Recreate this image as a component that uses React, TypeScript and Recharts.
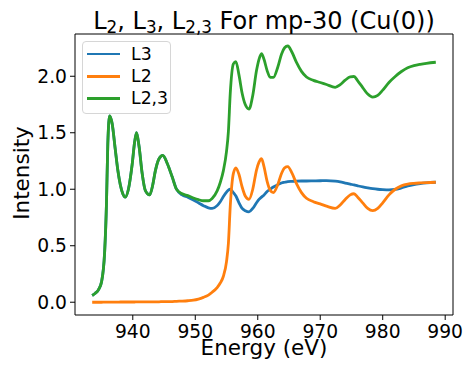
import { LineChart, Line, XAxis, YAxis, Legend } from 'recharts';

const ENERGY = [
  933.5, 934, 934.5, 935, 935.5, 935.8, 936.0, 936.3, 936.7, 937.2,
  937.6, 938.0, 938.4, 938.8, 939.3, 939.9, 940.3, 940.6, 941.0, 941.5,
  942.0, 942.7, 943.2, 943.6, 944.2, 944.8, 945.5, 946.3, 947.0, 947.9,
  948.8, 949.7, 950.5, 951.3, 952.1, 952.7, 953.5, 954.0, 954.5, 955.0,
  955.3, 955.6, 956.1, 956.5, 957.0, 957.5, 958.0, 958.6, 959.2, 959.8,
  960.2, 960.6, 961.0, 961.5, 962.0, 962.5, 963.2, 963.8, 964.3, 964.8,
  965.5, 966.2, 967.0, 967.8, 968.9, 970.0, 971.0, 972.4, 973.2, 974.0,
  974.8, 975.4, 976.0, 976.8, 977.6, 978.4, 979.2, 980.0, 981.0, 982.0,
  983.0, 984.0, 985.0, 986.0, 987.0, 988.5,
];

const L3 = [
  0.06, 0.08, 0.11, 0.18, 0.45, 0.9, 1.4, 1.65, 1.58, 1.35,
  1.17, 1.04, 0.96, 0.93, 1.0, 1.22, 1.42, 1.5, 1.38, 1.14,
  0.99, 0.95, 1.04, 1.16, 1.27, 1.3, 1.23, 1.11, 1.0, 0.95,
  0.93, 0.905, 0.88, 0.855, 0.835, 0.83, 0.855, 0.89, 0.935, 0.975,
  0.993, 1.0, 0.97, 0.94, 0.88, 0.83, 0.81, 0.8, 0.83, 0.88,
  0.91, 0.93, 0.95, 0.98, 1.0, 1.02, 1.04, 1.055, 1.062, 1.068,
  1.07, 1.072, 1.073, 1.073, 1.074, 1.075, 1.077, 1.072, 1.065, 1.055,
  1.045, 1.038, 1.03, 1.02, 1.012, 1.005, 1.0, 0.997, 0.995, 0.998,
  1.012, 1.03, 1.042, 1.05, 1.056, 1.062,
];

const L2 = [
  0, 0, 0, 0, 0.001, 0.001, 0.001, 0.001, 0.001, 0.001,
  0.001, 0.002, 0.002, 0.002, 0.002, 0.002, 0.002, 0.003, 0.003, 0.003,
  0.003, 0.003, 0.004, 0.004, 0.004, 0.005, 0.005, 0.006, 0.008, 0.01,
  0.013, 0.018, 0.028, 0.043, 0.063, 0.088, 0.13, 0.17, 0.23, 0.36,
  0.52, 0.85, 1.14, 1.19, 1.13, 1.02, 0.94, 0.91, 1.0, 1.17,
  1.24, 1.27, 1.2, 1.07, 0.99, 0.97, 1.04, 1.14, 1.19, 1.2,
  1.14, 1.05, 0.97, 0.92, 0.89, 0.87, 0.85, 0.83, 0.86, 0.91,
  0.95, 0.96, 0.93, 0.88, 0.83, 0.81, 0.83, 0.88, 0.95, 1.0,
  1.03, 1.045, 1.052, 1.056, 1.059, 1.062,
];

const L23 = [
  0.06, 0.08, 0.11, 0.18, 0.45, 0.9, 1.4, 1.65, 1.58, 1.35,
  1.17, 1.04, 0.96, 0.93, 1.0, 1.22, 1.42, 1.5, 1.38, 1.14,
  0.99, 0.95, 1.04, 1.16, 1.27, 1.3, 1.23, 1.11, 1.0, 0.96,
  0.943, 0.923, 0.908, 0.898, 0.898, 0.918, 0.985, 1.06, 1.165, 1.335,
  1.51, 1.85, 2.11, 2.13, 2.01, 1.85, 1.75, 1.71, 1.83, 2.05,
  2.15, 2.2, 2.15, 2.05, 1.99, 1.99, 2.08, 2.195, 2.252, 2.268,
  2.21, 2.122, 2.043, 1.993, 1.964, 1.945, 1.927, 1.902, 1.925, 1.965,
  1.995, 1.998, 1.96, 1.9, 1.842, 1.815, 1.83, 1.877, 1.945, 1.998,
  2.042, 2.075, 2.094, 2.106, 2.115, 2.124,
];

const SERIES = ['L3', 'L2', 'L2,3'];
const X_TICKS = [940, 950, 960, 970, 980, 990];
const Y_TICKS = [0, 0.5, 1.0, 1.5, 2.0];

const FONT = "'DejaVu Sans', sans-serif";

const rows = ENERGY.map((energy, i) => ({
  energy,
  L3: L3[i],
  L2: L2[i],
  'L2,3': L23[i],
}));

function LegendBox({ payload }: any) {
  const items = [...(payload || [])].sort(
    (a: any, b: any) => SERIES.indexOf(a.value) - SERIES.indexOf(b.value)
  );
  return (
    <div
      style={{
        width: 89,
        height: 73,
        boxSizing: 'border-box',
        border: '1px solid #d6d6d6',
        borderRadius: 4,
        background: 'rgba(255,255,255,0.8)',
        paddingTop: 1,
        fontFamily: FONT,
        fontSize: 17.3,
        color: '#000',
      }}
    >
      {items.map((p: any) => (
        <div key={p.value} style={{ display: 'flex', alignItems: 'center', height: 22.3, lineHeight: 1 }}>
          <span style={{ display: 'inline-block', width: 33, height: 2.7, background: p.color, marginLeft: 4, marginRight: 11 }} />
          <span>{p.value}</span>
        </div>
      ))}
    </div>
  );
}

const sub = { fontSize: '0.7em', position: 'relative' as const, top: '0.28em' };

export default function App() {
  return (
    <div style={{ position: 'absolute', left: 0, top: 0, width: 468, height: 366, background: '#fff', fontFamily: FONT }}>
      <LineChart width={468} height={366} data={rows} margin={{ top: 33, right: 14, bottom: 0, left: 0 }}>
        <XAxis
          xAxisId="b"
          dataKey="energy"
          type="number"
          domain={[930.75, 991.25]}
          ticks={X_TICKS}
          allowDataOverflow
          height={51}
          tickSize={5}
          tickMargin={5}
          stroke="#000"
          tick={{ fill: '#000', fontSize: 18.7, fontFamily: FONT }}
        />
        <XAxis
          xAxisId="t"
          orientation="top"
          dataKey="energy"
          type="number"
          domain={[930.75, 991.25]}
          allowDataOverflow
          height={1}
          tick={false}
          tickLine={false}
          stroke="#000"
        />
        <YAxis
          yAxisId="l"
          type="number"
          domain={[-0.113, 2.374]}
          ticks={Y_TICKS}
          allowDataOverflow
          width={75}
          tickSize={5}
          tickMargin={3}
          stroke="#000"
          tickFormatter={(v: number) => v.toFixed(1)}
          tick={{ fill: '#000', fontSize: 18.7, fontFamily: FONT }}
        />
        <YAxis
          yAxisId="r"
          orientation="right"
          type="number"
          domain={[-0.113, 2.374]}
          allowDataOverflow
          width={1}
          tick={false}
          tickLine={false}
          stroke="#000"
        />
        <Line xAxisId="b" yAxisId="l" type="monotone" dataKey="L3" stroke="#1f77b4" strokeWidth={2.8} dot={false} isAnimationActive={false} />
        <Line xAxisId="b" yAxisId="l" type="monotone" dataKey="L2" stroke="#ff7f0e" strokeWidth={2.8} dot={false} isAnimationActive={false} />
        <Line xAxisId="b" yAxisId="l" type="monotone" dataKey="L2,3" stroke="#2ca02c" strokeWidth={2.8} dot={false} isAnimationActive={false} />
        <Legend
          layout="vertical"
          align="center"
          verticalAlign="middle"
          content={<LegendBox />}
          wrapperStyle={{ left: 82, top: 41, width: 89, height: 73 }}
        />
      </LineChart>
      <div
        style={{
          position: 'absolute',
          left: 75,
          width: 378,
          top: 8.7,
          textAlign: 'center',
          fontSize: 24,
          lineHeight: 1,
          whiteSpace: 'nowrap',
          color: '#000',
        }}
      >
        L<span style={sub}>2</span>, L<span style={sub}>3</span>, L<span style={sub}>2,3</span> For mp-30 (Cu(0))
      </div>
      <div
        style={{
          position: 'absolute',
          left: 75,
          width: 378,
          top: 342.9,
          textAlign: 'center',
          fontSize: 21.5,
          lineHeight: 0.5,
          whiteSpace: 'nowrap',
          color: '#000',
        }}
      >
        Energy (eV)
      </div>
      <div
        style={{
          position: 'absolute',
          left: 21.5,
          top: 173.3,
          transform: 'translate(-50%, -50%) rotate(-90deg)',
          fontSize: 21.5,
          lineHeight: 1,
          whiteSpace: 'nowrap',
          color: '#000',
        }}
      >
        Intensity
      </div>
    </div>
  );
}
